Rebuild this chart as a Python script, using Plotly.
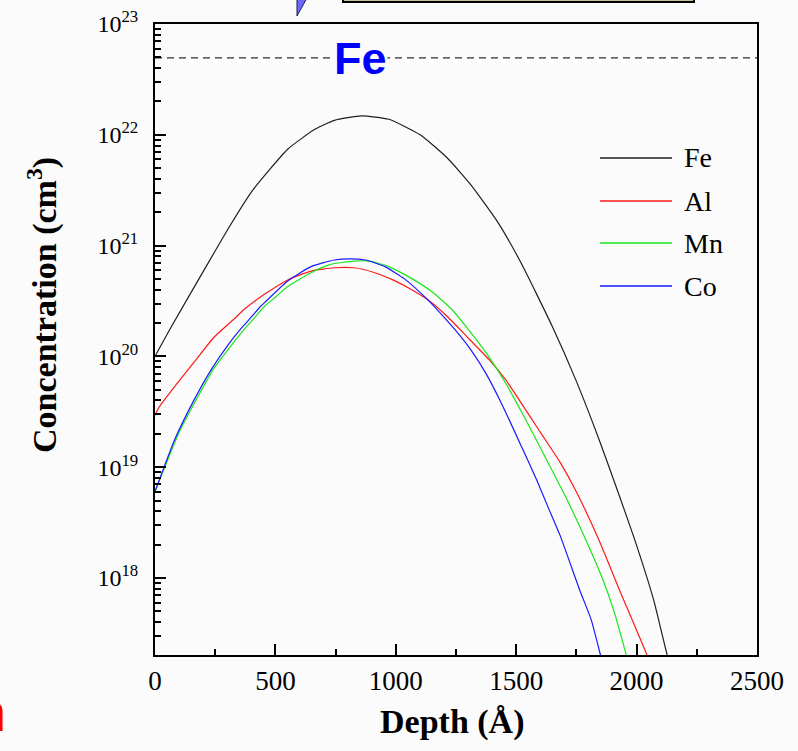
import plotly.graph_objects as go

# ---------------- data ----------------
SERIES = ["Fe", "Al", "Mn", "Co"]
COLORS = ["#202020", "#ff1a1a", "#19e619", "#1a1aff"]

FE_DEPTH = [0, 66, 212, 309, 406, 551, 664, 745, 858, 971, 1101, 1214, 1311, 1424,
            1521, 1650, 1747, 1844, 1909, 1990, 2071, 2127, 2160]
FE_CONC = [1.00e20, 1.82e20, 6.46e20, 1.48e21, 3.16e21, 7.41e21, 1.12e22, 1.35e22,
           1.48e22, 1.38e22, 1.00e22, 6.17e21, 3.55e21, 1.62e21, 6.92e20, 1.86e20,
           6.17e19, 1.78e19, 7.24e18, 2.29e18, 6.31e17, 2.02e17, 1.20e17]

AL_DEPTH = [0, 18, 82, 163, 244, 325, 373, 422, 454, 551, 648, 745, 826, 907, 988,
            1068, 1133, 1214, 1295, 1392, 1456, 1602, 1683, 1747, 1844, 1933, 1990,
            2043, 2070]
AL_CONC = [2.95e19, 3.51e19, 5.37e19, 8.91e19, 1.48e20, 2.14e20, 2.69e20, 3.24e20,
           3.63e20, 4.90e20, 5.89e20, 6.31e20, 6.31e20, 5.75e20, 4.90e20, 3.98e20,
           3.24e20, 2.29e20, 1.51e20, 9.12e19, 6.17e19, 2.04e19, 1.10e19, 6.17e18,
           2.19e18, 7.41e17, 3.80e17, 2.02e17, 1.40e17]

MN_DEPTH = [0, 99, 179, 244, 317, 373, 406, 454, 503, 551, 648, 729, 826, 891, 971,
            1068, 1149, 1230, 1295, 1376, 1456, 1537, 1618, 1699, 1780, 1861, 1909,
            1954, 1980]
MN_CONC = [6.03e18, 2.04e19, 4.37e19, 7.76e19, 1.26e20, 1.78e20, 2.14e20, 2.82e20,
           3.47e20, 4.27e20, 5.69e20, 6.76e20, 7.24e20, 7.24e20, 6.46e20, 5.01e20,
           3.85e20, 2.69e20, 1.82e20, 1.07e20, 5.75e19, 2.75e19, 1.26e19, 5.75e18,
           2.45e18, 9.55e17, 4.79e17, 2.14e17, 1.38e17]

CO_DEPTH = [0, 82, 163, 236, 309, 357, 390, 438, 462, 551, 648, 745, 810, 874, 955,
            1036, 1133, 1198, 1246, 1311, 1376, 1440, 1521, 1586, 1634, 1683, 1764,
            1812, 1850, 1875]
CO_CONC = [6.03e18, 1.78e19, 4.07e19, 7.76e19, 1.32e20, 1.78e20, 2.14e20, 2.82e20,
           3.16e20, 4.79e20, 6.46e20, 7.41e20, 7.59e20, 7.41e20, 6.46e20, 5.01e20,
           3.24e20, 2.29e20, 1.74e20, 1.15e20, 6.92e19, 3.72e19, 1.55e19, 7.59e18,
           4.27e18, 2.40e18, 7.76e17, 4.17e17, 2.02e17, 1.26e17]

DEPTHS = [FE_DEPTH, AL_DEPTH, MN_DEPTH, CO_DEPTH]
CONCS = [FE_CONC, AL_CONC, MN_CONC, CO_CONC]

FE_DENSITY = 4.95e22          # dashed reference line
X_RANGE = [0, 2500]
X_TICKS = [0, 500, 1000, 1500, 2000, 2500]
X_MINOR = [250, 750, 1250, 1750, 2250]
Y_EXP = [18, 19, 20, 21, 22, 23]
Y_RANGE_LOG = [17.305, 23.0]

# ---------------- layout geometry ----------------
W, H = 798, 751
L, R, T, B = 155, 757, 24, 655          # plot area in pixels
BG = "#fbfbfb"
SERIF = "Liberation Serif, Times New Roman, serif"


def px(x):
    return (x - L) / (R - L)


def py(y):
    return (B - y) / (B - T)


fig = go.Figure()

# dashed Fe density line
fig.add_trace(go.Scatter(x=X_RANGE, y=[FE_DENSITY, FE_DENSITY], mode="lines",
                         line=dict(color="#303030", width=1.3, dash="7px,5px"),
                         showlegend=False, hoverinfo="skip"))

for name, col, xs, ys in zip(SERIES, COLORS, DEPTHS, CONCS):
    fig.add_trace(go.Scatter(x=xs, y=ys, mode="lines", name=name,
                             line=dict(color=col, width=1.2, shape="spline", smoothing=0.5),
                             showlegend=False))

y_minor = [float(m) * 10.0 ** e for e in range(17, 23) for m in range(2, 10)]

fig.update_layout(
    width=W, height=H,
    margin=dict(l=L, r=W - R, t=T, b=H - B, pad=0),
    paper_bgcolor=BG, plot_bgcolor=BG,
    showlegend=False,
    font=dict(family=SERIF, color="black"),
    xaxis=dict(
        range=X_RANGE, tickvals=X_TICKS, ticktext=[str(v) for v in X_TICKS],
        ticks="inside", ticklen=11, tickwidth=2, tickcolor="black",
        showline=True, linecolor="black", linewidth=2, mirror=True,
        showgrid=False, zeroline=False, automargin=False,
        tickfont=dict(size=27, family=SERIF, color="black"),
        ticklabelstandoff=1,
        minor=dict(tickvals=X_MINOR, ticks="inside", ticklen=6, tickwidth=2,
                   tickcolor="black", showgrid=False),
    ),
    yaxis=dict(
        type="log", range=Y_RANGE_LOG,
        tickvals=[10.0 ** e for e in Y_EXP],
        ticktext=["10<sup>%d</sup>" % e for e in Y_EXP],
        ticks="inside", ticklen=11, tickwidth=2, tickcolor="black",
        showline=True, linecolor="black", linewidth=2, mirror=True,
        showgrid=False, zeroline=False, automargin=False,
        tickfont=dict(size=24, family=SERIF, color="black"),
        ticklabelstandoff=10,
        minor=dict(tickvals=y_minor, ticks="inside", ticklen=6, tickwidth=2,
                   tickcolor="black", showgrid=False),
    ),
)

ann = []
# axis titles
ann.append(dict(text="<b>Depth (Å)</b>", xref="paper", yref="paper",
                x=px(452), y=py(722), xanchor="center", yanchor="middle",
                showarrow=False, font=dict(size=34, family=SERIF, color="black")))
ann.append(dict(text="<b>Concentration (cm<sup>3</sup>)</b>", xref="paper", yref="paper",
                x=px(42), y=py(305), xanchor="center", yanchor="middle", textangle=-90,
                showarrow=False, font=dict(size=34, family=SERIF, color="black")))
# Fe label on the dashed line
ann.append(dict(text="<b>Fe</b>", xref="paper", yref="paper",
                x=px(360), y=py(58), xanchor="center", yanchor="middle",
                showarrow=False, bgcolor=BG, borderpad=0,
                font=dict(size=45, family="Liberation Sans, Arial, sans-serif",
                          color="#0000ff")))
# partial red letter at left edge (slide remnant)
ann.append(dict(text="n", xref="paper", yref="paper",
                x=px(8), y=py(712), xanchor="right", yanchor="middle",
                showarrow=False,
                font=dict(size=54, family="Liberation Sans, Arial, sans-serif",
                          color="#ff0000")))

shapes = []
# custom legend
leg_y = [158, 201, 243, 286]
for name, col, yy in zip(SERIES, COLORS, leg_y):
    shapes.append(dict(type="line", xref="paper", yref="paper",
                       x0=px(600), x1=px(672), y0=py(yy), y1=py(yy),
                       line=dict(color=col, width=1.5)))
    ann.append(dict(text=name, xref="paper", yref="paper",
                    x=px(682), y=py(yy), xanchor="left", yanchor="middle",
                    showarrow=False, font=dict(size=28, family=SERIF, color="black")))

# slide remnants at the top: bottom of a text box and a callout tip
shapes.append(dict(type="rect", xref="paper", yref="paper",
                   x0=px(343), x1=px(694), y0=py(2), y1=py(-20),
                   fillcolor="#c8c09c", line=dict(color="black", width=2)))
shapes.append(dict(type="path", xref="paper", yref="paper",
                   path="M %f,%f L %f,%f L %f,%f Z" % (px(297), py(-2), px(307), py(-2),
                                                        px(297), py(16)),
                   fillcolor="#6a6aff", line=dict(color="#202050", width=1)))

fig.update_layout(annotations=ann, shapes=shapes)

fig.write_html("out.html")
